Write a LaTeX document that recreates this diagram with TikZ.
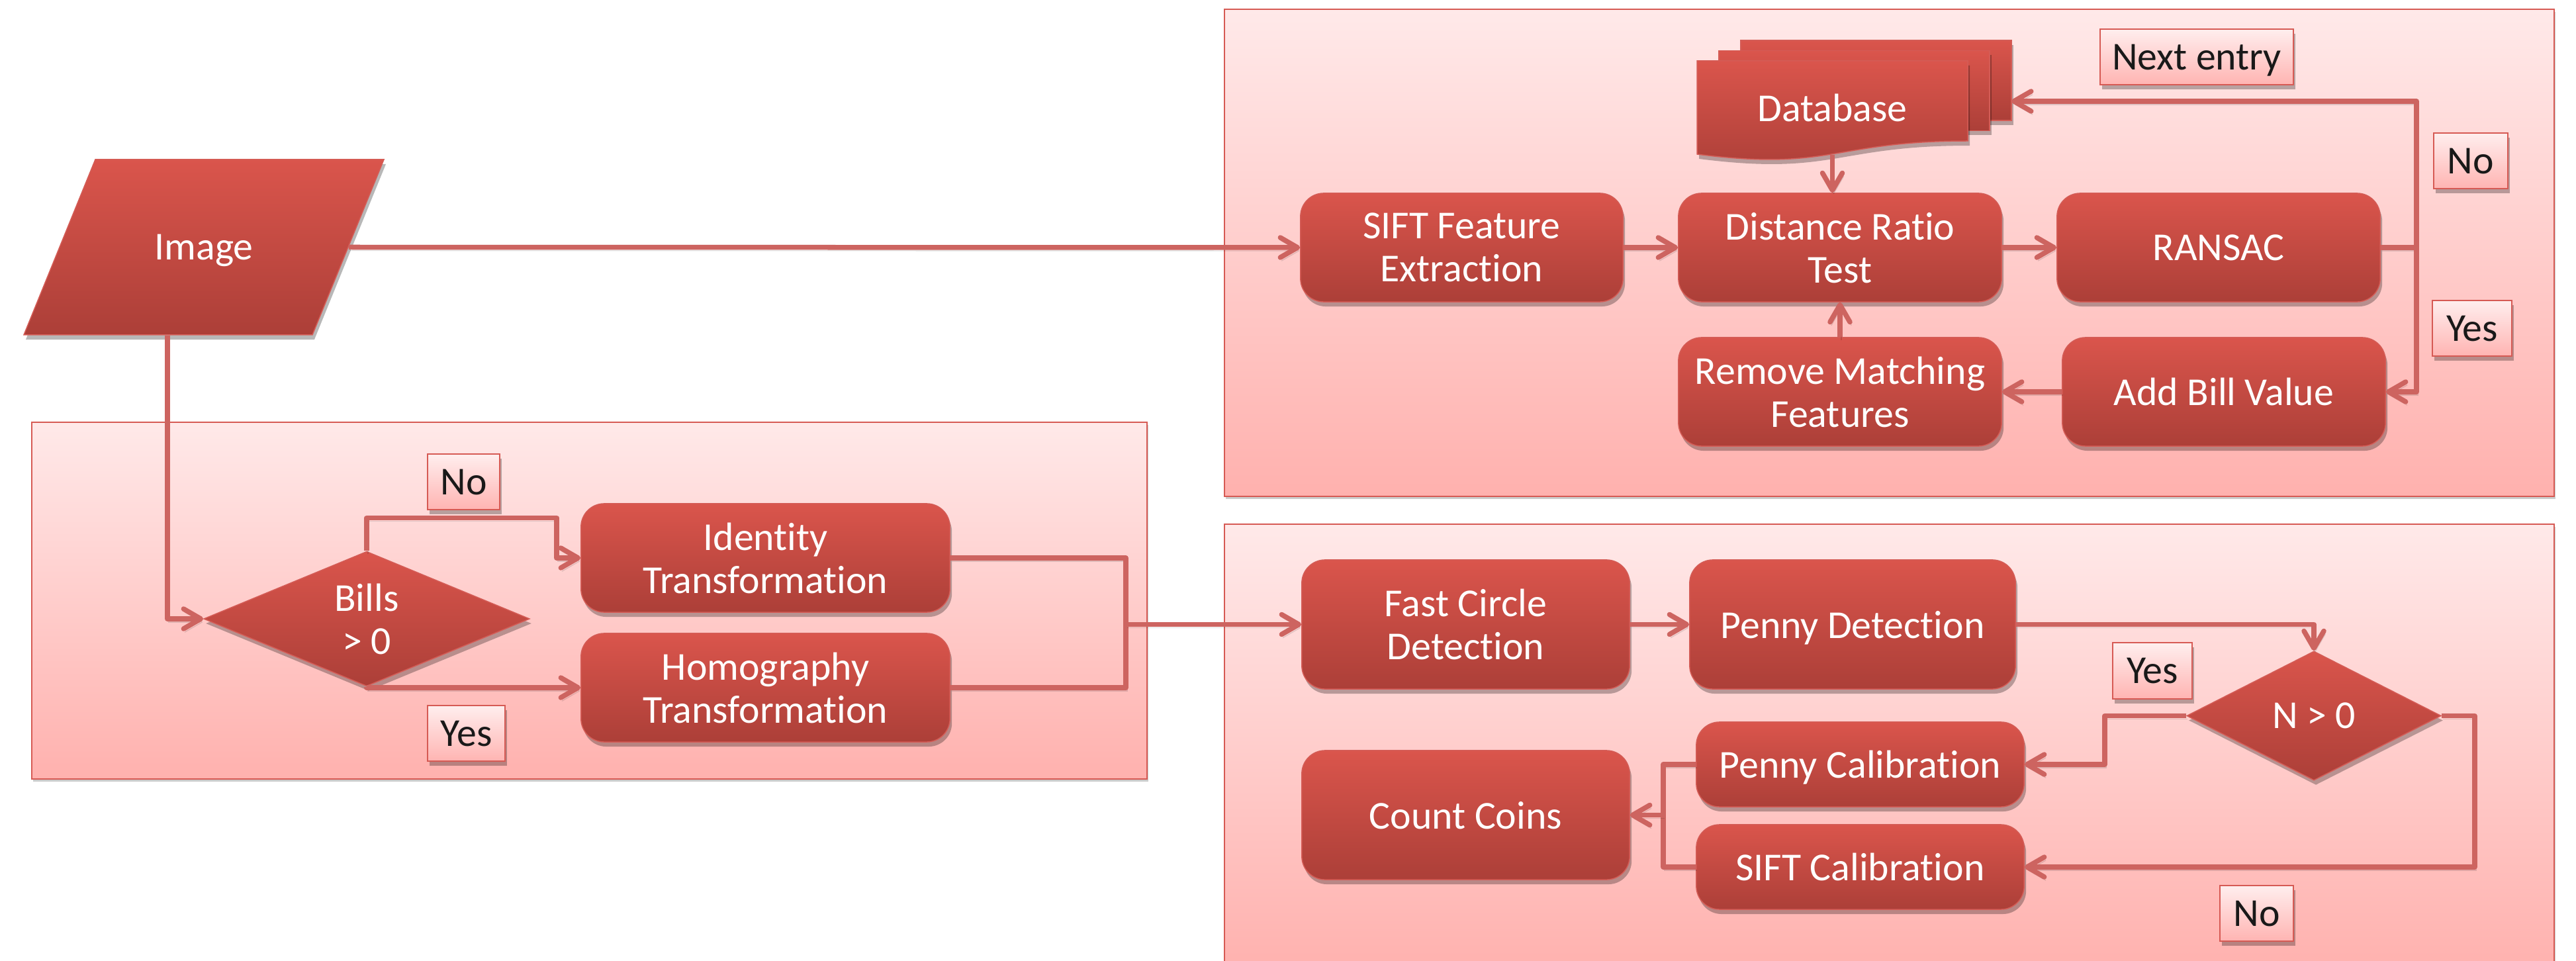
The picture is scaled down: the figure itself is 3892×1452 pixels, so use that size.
\documentclass[tikz,border=0pt]{standalone}
\usepackage{fontspec}
\setmainfont{Carlito}[Ligatures=NoCommon]
\usetikzlibrary{arrows.meta,shadows,calc,shapes.geometric}
\definecolor{nodetop}{RGB}{218,85,76}
\definecolor{nodebot}{RGB}{172,63,56}
\definecolor{nodeline}{RGB}{212,92,86}
\definecolor{conncol}{RGB}{205,100,96}
\definecolor{boxtop}{RGB}{255,233,233}
\definecolor{boxbot}{RGB}{255,177,174}
\definecolor{boxline}{RGB}{214,90,84}
\definecolor{labtop}{RGB}{255,238,238}
\definecolor{labbot}{RGB}{255,180,178}
\definecolor{labtext}{RGB}{25,25,25}
\begin{document}
\begin{tikzpicture}[x=0.01cm,y=-0.01cm,
  shadowed/.style={drop shadow={shadow xshift=0.03cm, shadow yshift=-0.07cm, opacity=0.28, fill=black}},
  shapefill/.style={draw=nodeline, line width=0.015cm, top color=nodetop, bottom color=nodebot, shadowed},
  txt/.style={text=white, font=\fontsize{17}{18.5}\selectfont, align=center, inner sep=0pt, text depth=0pt},
  proc/.style={rectangle, rounded corners=0.35cm, shapefill, txt},
  decision/.style={diamond, shapefill, txt},
  lab/.style={rectangle, draw=boxline, line width=0.02cm, top color=labtop, bottom color=labbot, text=labtext, font=\fontsize{17}{18.5}\selectfont, inner sep=0pt, text depth=0pt, minimum height=0.84cm, shadowed},
  container/.style={draw=boxline, line width=0.02cm, top color=boxtop, bottom color=boxbot, drop shadow={shadow xshift=0.02cm, shadow yshift=-0.04cm, opacity=0.2, fill=black}},
  conn/.style={draw=conncol, line width=0.075cm, line join=round,
    preaction={draw=black, opacity=0.12, transform canvas={shift={(0.02cm,-0.05cm)}}}},
  arr/.style={conn, -{Straight Barb[length=0.26cm,width=0.3cm,round]}}
]
\useasboundingbox (0,0) rectangle (3892,1452);
\fill[white] (0,0) rectangle (3892,1452);

% containers
\path[container] (48,638) rectangle (1733,1177);
\path[container] (1850,14) rectangle (3859,750);
\path[container] (1850,792) rectangle (3859,1470);

% image parallelogram
\path[shapefill] (144,241) -- (580,241) -- (472,506) -- (36,506) -- cycle;
\node[txt, minimum width=4.36cm, minimum height=2.65cm] (img) at (308,373.5) {Image};

% database
\path[shapefill] (2630,61) rectangle (3039,182);
\path[shapefill] (2597,76.5) rectangle (3006,197.5);
\path[shapefill] (2564,92) -- (2973,92) -- (2973,213) .. controls (2768.5,213) and (2768.5,259) .. (2564,233) -- cycle;
\node[txt, minimum width=4.09cm, minimum height=1.41cm] (db) at (2768.5,162.5) {Database};
\coordinate (dbin) at (3039,153);

% process nodes
\node[proc, minimum width=4.87cm, minimum height=1.64cm] (sift) at (2208.5,374) {SIFT Feature\\Extraction};
\node[proc, minimum width=4.88cm, minimum height=1.64cm] (drt) at (2780,374) {Distance Ratio\\Test};
\node[proc, minimum width=4.88cm, minimum height=1.64cm] (ransac) at (3352,374) {RANSAC};
\node[proc, minimum width=4.88cm, minimum height=1.64cm] (rmf) at (2780,592) {Remove Matching\\Features};
\node[proc, minimum width=4.88cm, minimum height=1.64cm] (abv) at (3360,592) {Add Bill Value};
\node[proc, minimum width=5.57cm, minimum height=1.64cm] (idt) at (1156.5,843) {Identity\\Transformation};
\node[proc, minimum width=5.57cm, minimum height=1.64cm] (homo) at (1156.5,1039) {Homography\\Transformation};
\node[proc, minimum width=4.95cm, minimum height=1.95cm] (fcd) at (2214.5,943.5) {Fast Circle\\Detection};
\node[proc, minimum width=4.92cm, minimum height=1.95cm] (pd) at (2799,943.5) {Penny Detection};
\node[proc, minimum width=4.95cm, minimum height=1.95cm] (cc) at (2214.5,1231.5) {Count Coins};
\node[proc, minimum width=4.95cm, minimum height=1.28cm] (pc) at (2810.5,1155) {Penny Calibration};
\node[proc, minimum width=4.95cm, minimum height=1.28cm] (sc) at (2810.5,1310) {SIFT Calibration};

% decisions
\node[decision, minimum width=4.92cm, minimum height=1.88cm] (bills) at (554,935) {Bills\\> 0};
\node[decision, minimum width=3.84cm, minimum height=1.95cm] (n0) at (3496,1081.5) {N > 0};

% labels
\node[lab, minimum width=1.09cm] (lno1) at (700.5,728) {No};
\node[lab, minimum width=1.17cm] (lyes1) at (704.5,1108) {Yes};
\node[lab, minimum width=2.92cm] (lnext) at (3319,86) {Next entry};
\node[lab, minimum width=1.12cm] (lno2) at (3733,243) {No};
\node[lab, minimum width=1.20cm] (lyes2) at (3735,496) {Yes};
\node[lab, minimum width=1.20cm] (lyes3) at (3252,1013.5) {Yes};
\node[lab, minimum width=1.11cm] (lno3) at (3409.5,1380) {No};

% connectors
\draw[arr] (img.east) -- (sift.west);
\draw[arr] ([xshift=-0.55cm]img.south) |- (bills.west);
\draw[arr] (bills.north) -- ++(0,-50) -- ++(287,0) |- (idt.west);
\draw[arr] (bills.south) |- (homo.west);
\coordinate (jt) at ($(idt.east)+(265,0)$);
\draw[conn] (idt.east) -- (jt) |- (homo.east);
\draw[arr] (jt |- fcd.west) -- (fcd.west);

\draw[arr] (sift.east) -- (drt.west);
\draw[arr] (drt.east) -- (ransac.west);
\draw[arr] (db.south) -- (db.south |- drt.north);
\draw[arr] (rmf.north) -- (drt.south);
\coordinate (rl) at ($(ransac.east)+(54,0)$);
\draw[conn] (ransac.east) -- (rl);
\draw[arr] (rl) |- (dbin);
\draw[arr] (rl) |- (abv.east);
\draw[arr] (abv.west) -- (rmf.east);

\draw[arr] (fcd.east) -- (pd.west);
\draw[arr] (pd.east) -| (n0.north);
\draw[arr] (n0.west) -- ++(-123,0) |- (pc.east);
\draw[arr] (n0.east) -- ++(50,0) |- (sc.east);
\coordinate (jc) at ($(pc.west)+(-49,0)$);
\draw[conn] (pc.west) -- (jc) |- (sc.west);
\draw[arr] (jc |- cc.east) -- (cc.east);
\end{tikzpicture}
\end{document}
